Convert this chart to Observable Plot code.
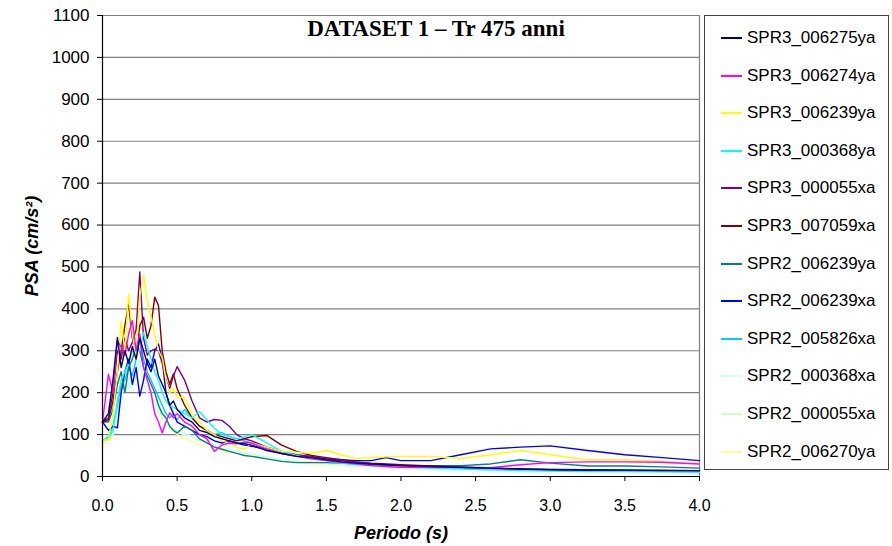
<!DOCTYPE html>
<html>
<head>
<meta charset="utf-8">
<script src="https://cdn.jsdelivr.net/npm/d3@7"></script>
<script src="https://cdn.jsdelivr.net/npm/@observablehq/plot@0.6"></script>
<style>
  body { margin: 0; background: #fff; }
  #wrap { position: relative; width: 892px; height: 546px; font-family: "Liberation Sans", Arial, sans-serif; }
  #legend { position: absolute; left: 704px; top: 15px; width: 185px; height: 455px; border: 1px solid #444; background: #fff; box-sizing: border-box; }
  .item { position: absolute; left: 0; height: 20px; display: flex; align-items: center; font-size: 17px; color: #000; }
  .sw { display: block; width: 21px; height: 2px; margin-left: 16px; margin-right: 5px; }
</style>
</head>
<body>
<div id="wrap"></div>
<script>
// Periods (s)
const periods = [0, 0.04, 0.07, 0.1, 0.125, 0.15, 0.175, 0.2, 0.225, 0.25, 0.275, 0.3, 0.325, 0.35, 0.375, 0.4, 0.425, 0.45, 0.475, 0.5,
  0.55, 0.6, 0.65, 0.7, 0.75, 0.8, 0.85, 0.9, 0.95, 1.0, 1.1, 1.2, 1.3, 1.4, 1.5, 1.6, 1.7, 1.8, 1.9, 2.0,
  2.2, 2.4, 2.6, 2.8, 3.0, 3.25, 3.5, 3.75, 4.0];

const seriesNames = ["SPR3_006275ya", "SPR3_006274ya", "SPR3_006239ya", "SPR3_000368ya", "SPR3_000055xa", "SPR3_007059xa",
  "SPR2_006239ya", "SPR2_006239xa", "SPR2_005826xa", "SPR2_000368xa", "SPR2_000055xa", "SPR2_006270ya"];
const seriesColors = ["#000080", "#FF00FF", "#FFFF00", "#00FFFF", "#800080", "#800000",
  "#008080", "#0000FF", "#00CCFF", "#CCFFFF", "#CCFFCC", "#FFFF99"];

// PSA values (cm/s^2), one array per record, aligned with periods
const spr3_006275ya = [130, 150, 230, 332, 260, 300, 270, 310, 280, 330, 300, 270, 250, 280, 240, 220, 200, 170, 180, 160, 140, 130, 110, 105, 95, 90, 85, 80, 78, 75, 62, 55, 48, 45, 40, 35, 32, 30, 28, 26, 24, 22, 20, 18, 16, 15, 15, 14, 14];
const spr3_006274ya = [130, 244, 200, 324, 308, 290, 340, 372, 300, 340, 260, 230, 200, 150, 130, 104, 130, 152, 140, 150, 130, 120, 100, 90, 60, 75, 80, 78, 82, 80, 65, 55, 48, 42, 38, 34, 30, 26, 24, 22, 22, 22, 21, 28, 33, 35, 35, 34, 30];
const spr3_006239ya = [85, 90, 150, 250, 372, 300, 436, 340, 280, 430, 480, 420, 380, 340, 300, 284, 230, 200, 210, 190, 188, 150, 130, 110, 100, 85, 80, 70, 65, 80, 70, 60, 58, 55, 62, 52, 43, 45, 47, 48, 48, 43, 52, 62, 52, 40, 40, 36, 30];
const spr3_000368ya = [85, 90, 110, 180, 230, 250, 270, 300, 320, 300, 344, 310, 280, 250, 230, 200, 180, 170, 165, 160, 150, 140, 155, 135, 115, 100, 95, 90, 95, 100, 80, 60, 50, 42, 38, 32, 28, 26, 24, 22, 20, 18, 16, 14, 13, 12, 12, 11, 10];
const spr3_000055xa = [130, 140, 200, 300, 280, 330, 300, 320, 350, 488, 330, 290, 300, 304, 300, 270, 230, 210, 240, 262, 230, 180, 140, 130, 136, 134, 120, 100, 90, 85, 70, 60, 52, 48, 42, 38, 34, 30, 28, 26, 22, 20, 18, 17, 16, 15, 14, 14, 13];
const spr3_007059xa = [130, 135, 180, 250, 300, 360, 412, 330, 300, 360, 380, 330, 360, 428, 408, 300, 250, 220, 245, 210, 170, 140, 120, 110, 100, 95, 90, 85, 90, 95, 98, 75, 60, 50, 45, 40, 35, 32, 30, 28, 25, 22, 20, 18, 17, 16, 15, 15, 14];
const spr2_006239ya = [130, 130, 160, 220, 250, 200, 260, 280, 310, 300, 260, 240, 220, 200, 170, 150, 140, 120, 110, 104, 120, 110, 90, 80, 70, 65, 60, 55, 50, 48, 42, 36, 33, 33, 33, 32, 30, 28, 27, 26, 26, 26, 30, 40, 32, 25, 25, 23, 20];
const spr2_006239xa = [130, 110, 120, 116, 200, 250, 280, 220, 260, 192, 230, 280, 260, 300, 316, 280, 200, 170, 150, 130, 120, 110, 100, 95, 85, 80, 85, 80, 75, 72, 65, 55, 50, 45, 42, 40, 38, 38, 45, 38, 38, 52, 66, 70, 73, 62, 52, 45, 38];
const spr2_005826xa = [85, 95, 120, 170, 220, 230, 260, 240, 280, 330, 280, 250, 230, 210, 190, 170, 150, 140, 150, 135, 160, 140, 120, 110, 100, 105, 95, 90, 85, 80, 70, 60, 50, 45, 40, 35, 32, 30, 28, 26, 24, 22, 20, 18, 17, 16, 15, 14, 13];
const spr2_000368xa = [85, 88, 100, 150, 180, 200, 230, 210, 250, 280, 220, 200, 180, 160, 170, 150, 130, 120, 110, 105, 100, 95, 90, 80, 75, 70, 65, 60, 58, 55, 48, 42, 38, 35, 32, 30, 28, 26, 24, 22, 20, 18, 17, 16, 15, 14, 13, 12, 12];
const spr2_000055xa = [85, 90, 110, 160, 200, 230, 210, 250, 230, 270, 240, 220, 200, 180, 160, 140, 130, 120, 115, 110, 105, 95, 85, 80, 72, 68, 64, 60, 56, 54, 46, 40, 36, 33, 30, 28, 26, 24, 22, 20, 18, 16, 15, 14, 13, 12, 12, 11, 10];
const spr2_006270ya = [80, 82, 95, 150, 190, 220, 240, 260, 230, 250, 220, 200, 190, 170, 150, 130, 120, 115, 110, 100, 90, 85, 75, 70, 66, 62, 58, 55, 52, 50, 44, 38, 34, 30, 28, 26, 24, 22, 21, 20, 19, 18, 17, 16, 15, 14, 13, 12, 11];

const seriesValues = [spr3_006275ya, spr3_006274ya, spr3_006239ya, spr3_000368ya, spr3_000055xa, spr3_007059xa,
  spr2_006239ya, spr2_006239xa, spr2_005826xa, spr2_000368xa, spr2_000055xa, spr2_006270ya];

const xTicks = [0, 0.5, 1, 1.5, 2, 2.5, 3, 3.5, 4];
const yTicks = [0, 100, 200, 300, 400, 500, 600, 700, 800, 900, 1000, 1100];

const titleText = "DATASET 1 \u2013 Tr 475 anni";
const xLabel = "Periodo (s)";
const yLabel = "PSA (cm/s\u00B2)";

// Long table; later legend entries drawn first so earlier ones sit on top
const rows = [];
seriesNames.forEach((name, i) => {
  periods.forEach((t, j) => rows.push({s: name, T: t, v: seriesValues[i][j]}));
});
const drawOrder = seriesNames.slice().reverse();
rows.sort((a, b) => drawOrder.indexOf(a.s) - drawOrder.indexOf(b.s));

const chart = Plot.plot({
  width: 892,
  height: 546,
  marginLeft: 102,
  marginRight: 193,
  marginTop: 15,
  marginBottom: 70,
  style: {fontFamily: "'Liberation Sans', Arial, sans-serif", fontSize: "16px", background: "#fff", color: "#000"},
  x: {domain: [0, 4]},
  y: {domain: [0, 1100]},
  color: {domain: seriesNames, range: seriesColors},
  marks: [
    Plot.ruleY(yTicks.filter(d => d > 0), {stroke: "#808080", strokeWidth: 1.2}),
    Plot.ruleX([4], {stroke: "#808080", strokeWidth: 1.2}),
    Plot.line(rows, {x: "T", y: "v", z: "s", stroke: "s", strokeWidth: 1.4}),
    Plot.ruleX([0], {stroke: "#000", strokeWidth: 1.2}),
    Plot.ruleY([0], {stroke: "#000", strokeWidth: 1.2}),
    Plot.axisX({ticks: xTicks, tickFormat: d3.format(".1f"), tickSize: 5, tickPadding: 18, label: null, fontSize: 16}),
    Plot.axisY({ticks: yTicks, tickFormat: d3.format("d"), tickSize: 5, tickPadding: 8, label: null, fontSize: 17}),
    Plot.text([yLabel], {frameAnchor: "left", dx: -70, rotate: -90, textAnchor: "middle", lineAnchor: "middle", fontSize: 18, fontWeight: "bold", fontStyle: "italic", text: d => d}),
    Plot.text([xLabel], {frameAnchor: "bottom", dy: 57, textAnchor: "middle", lineAnchor: "middle", fontSize: 18, fontWeight: "bold", fontStyle: "italic", text: d => d}),
    Plot.text([titleText], {frameAnchor: "top", dx: 35, dy: 13, textAnchor: "middle", lineAnchor: "middle", fontSize: 23, fontWeight: "bold", fontFamily: "'Liberation Serif', 'Times New Roman', serif", text: d => d})
  ]
});

const wrap = document.getElementById("wrap");
wrap.appendChild(chart);

const legend = document.createElement("div");
legend.id = "legend";
seriesNames.forEach((name, i) => {
  const item = document.createElement("div");
  item.className = "item";
  item.style.top = (12 + i * 37.6) + "px";
  const sw = document.createElement("span");
  sw.className = "sw";
  sw.style.background = seriesColors[i];
  const tx = document.createElement("span");
  tx.textContent = name;
  item.appendChild(sw);
  item.appendChild(tx);
  legend.appendChild(item);
});
wrap.appendChild(legend);
</script>
</body>
</html>
